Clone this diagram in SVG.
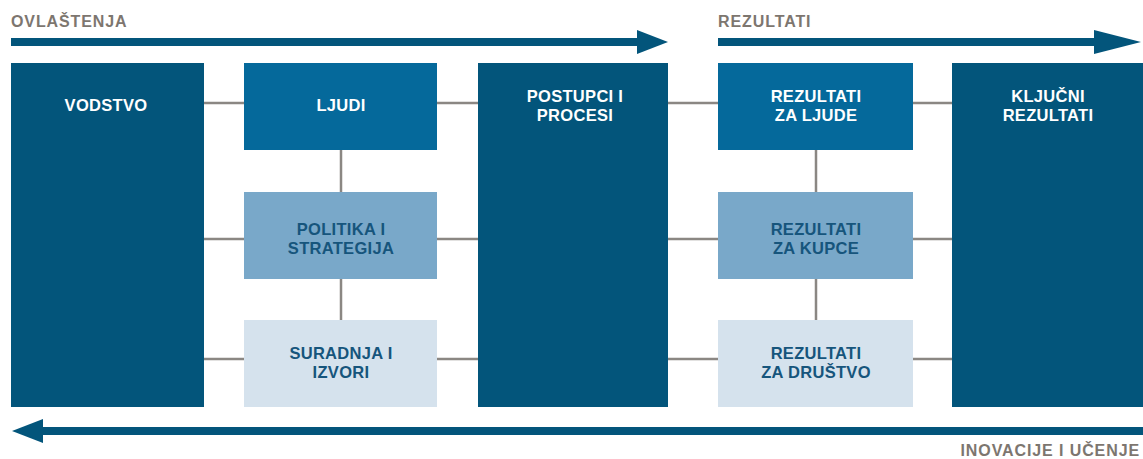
<svg xmlns="http://www.w3.org/2000/svg" width="1143" height="459" viewBox="0 0 1143 459">
<style>
.lbl{font-family:"Liberation Sans",Arial,sans-serif;font-weight:bold;font-size:16.5px;letter-spacing:0.3px;text-anchor:middle}
.w{fill:#ffffff}
.b{fill:#16557c}
.cap{font-family:"Liberation Sans",Arial,sans-serif;font-weight:bold;font-size:16px;letter-spacing:0.9px;fill:#7d766f}
.con{stroke:#8b8783;stroke-width:2.5;fill:none}
.arr{fill:#03557b}
</style>
<rect width="1143" height="459" fill="#ffffff"/>
<g id="connectors">
<line class="con" x1="204" y1="103" x2="952" y2="103"/>
<line class="con" x1="204" y1="239" x2="952" y2="239"/>
<line class="con" x1="204" y1="359" x2="952" y2="359"/>
<line class="con" x1="341" y1="150" x2="341" y2="320"/>
<line class="con" x1="816" y1="150" x2="816" y2="320"/>
</g>
<g id="arrow-ovlastenja">
<rect class="arr" x="11" y="38" width="628" height="8"/>
<polygon class="arr" points="637,30 668,42 637,54"/>
<text class="cap" x="11" y="27">OVLAŠTENJA</text>
</g>
<g id="arrow-rezultati">
<rect class="arr" x="718" y="38" width="378" height="8"/>
<polygon class="arr" points="1094,30 1141,42 1094,54"/>
<text class="cap" x="718" y="27">REZULTATI</text>
</g>
<g id="arrow-inovacije">
<rect class="arr" x="40" y="427" width="1103" height="8"/>
<polygon class="arr" points="43,419 12,431 43,443"/>
<text class="cap" x="1140" y="456" text-anchor="end">INOVACIJE I UČENJE</text>
</g>
<g id="vodstvo">
<rect x="11" y="63" width="193" height="344" fill="#03557b"/>
<text class="lbl w" x="106" y="111">VODSTVO</text>
</g>
<g id="ljudi">
<rect x="244" y="63" width="193" height="87" fill="#05699b"/>
<text class="lbl w" x="341" y="111">LJUDI</text>
</g>
<g id="politika">
<rect x="244" y="192" width="193" height="87" fill="#79a8c9"/>
<text class="lbl b" x="341" y="235">POLITIKA I</text>
<text class="lbl b" x="341" y="254">STRATEGIJA</text>
</g>
<g id="suradnja">
<rect x="244" y="320" width="193" height="87" fill="#d5e2ed"/>
<text class="lbl b" x="341" y="359">SURADNJA I</text>
<text class="lbl b" x="341" y="378">IZVORI</text>
</g>
<g id="postupci">
<rect x="478" y="63" width="190" height="344" fill="#03557b"/>
<text class="lbl w" x="575" y="102">POSTUPCI I</text>
<text class="lbl w" x="575" y="121">PROCESI</text>
</g>
<g id="rez-ljude">
<rect x="718" y="63" width="195" height="87" fill="#05699b"/>
<text class="lbl w" x="816" y="102">REZULTATI</text>
<text class="lbl w" x="816" y="121">ZA LJUDE</text>
</g>
<g id="rez-kupce">
<rect x="718" y="192" width="195" height="87" fill="#79a8c9"/>
<text class="lbl b" x="816" y="235">REZULTATI</text>
<text class="lbl b" x="816" y="254">ZA KUPCE</text>
</g>
<g id="rez-drustvo">
<rect x="718" y="320" width="195" height="87" fill="#d5e2ed"/>
<text class="lbl b" x="816" y="359">REZULTATI</text>
<text class="lbl b" x="816" y="378">ZA DRUŠTVO</text>
</g>
<g id="kljucni">
<rect x="952" y="63" width="191" height="344" fill="#03557b"/>
<text class="lbl w" x="1048" y="102">KLJUČNI</text>
<text class="lbl w" x="1048" y="121">REZULTATI</text>
</g>
</svg>
